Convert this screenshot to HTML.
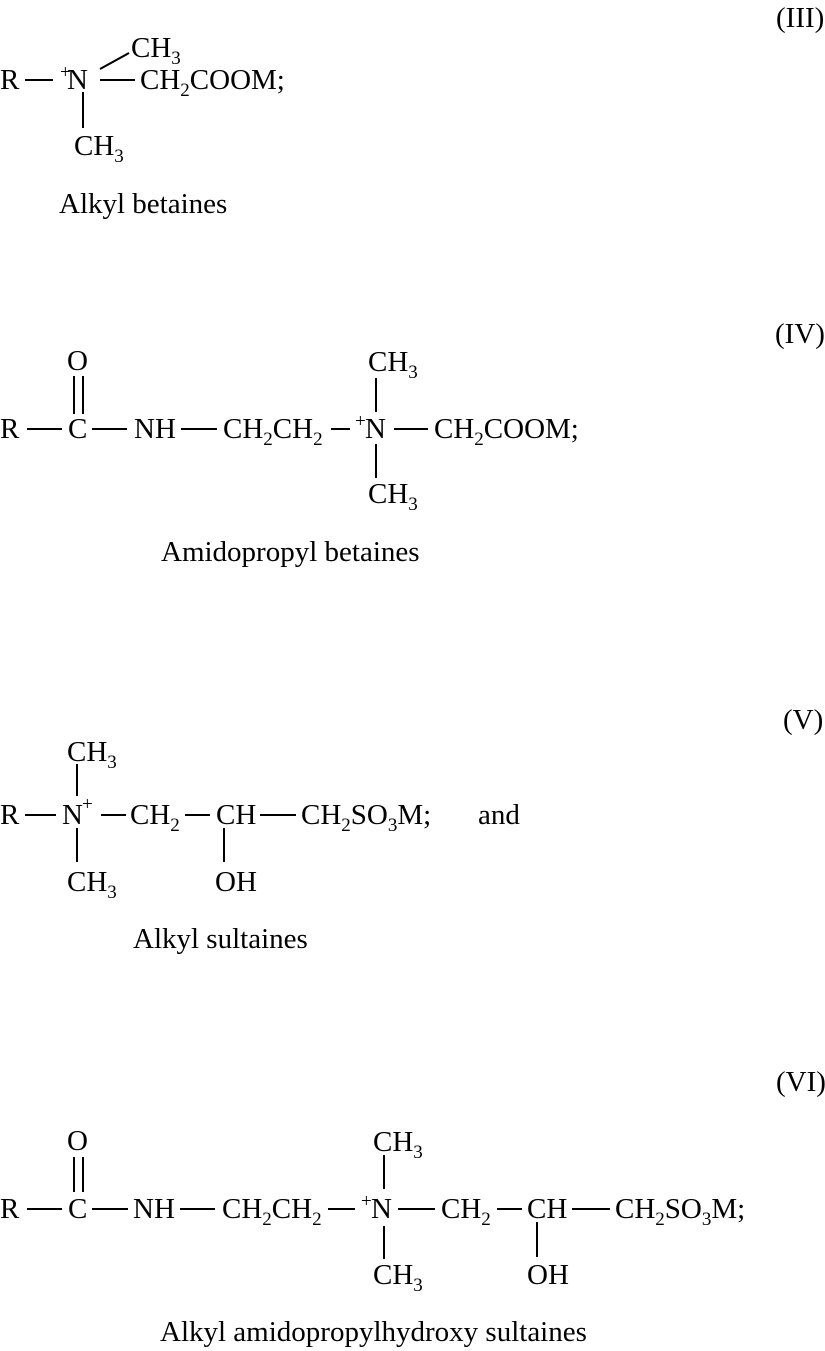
<!DOCTYPE html>
<html><head><meta charset="utf-8"><style>
html,body{margin:0;padding:0;background:#fff;}
svg{display:block;}
text{font-family:"Liberation Serif",serif;font-size:29px;fill:#000;}
.s{font-size:19px;}
line{stroke:#000;stroke-width:2;}
</style></head><body>
<svg width="825" height="1351" viewBox="0 0 825 1351" xmlns="http://www.w3.org/2000/svg">
<!-- III -->
<text x="776" y="27">(III)</text>
<text x="0" y="89">R</text>
<line x1="25" y1="80" x2="53" y2="80"/>
<text x="60" y="78" class="s">+</text>
<text x="67" y="89">N</text>
<line x1="100" y1="69" x2="129" y2="53"/>
<text x="131" y="57">CH<tspan class="s" dy="7">3</tspan></text>
<line x1="100" y1="80" x2="135" y2="80"/>
<text x="140" y="89">CH<tspan class="s" dy="7">2</tspan><tspan dy="-7">COOM;</tspan></text>
<line x1="83" y1="92" x2="83" y2="128"/>
<text x="74" y="155">CH<tspan class="s" dy="7">3</tspan></text>
<text x="59" y="213">Alkyl betaines</text>

<!-- IV -->
<text x="775" y="343">(IV)</text>
<text x="67" y="370">O</text>
<line x1="74" y1="376" x2="74" y2="414"/>
<line x1="83" y1="376" x2="83" y2="414"/>
<text x="0" y="438">R</text>
<line x1="27" y1="429" x2="62" y2="429"/>
<text x="68" y="438">C</text>
<line x1="92" y1="429" x2="127" y2="429"/>
<text x="134" y="438">NH</text>
<line x1="181" y1="429" x2="217" y2="429"/>
<text x="223" y="438">CH<tspan class="s" dy="7">2</tspan><tspan dy="-7">CH</tspan><tspan class="s" dy="7">2</tspan></text>
<line x1="331" y1="429" x2="350" y2="429"/>
<text x="355" y="427" class="s">+</text>
<text x="365" y="438">N</text>
<line x1="376" y1="378" x2="376" y2="412"/>
<line x1="376" y1="444" x2="376" y2="478"/>
<line x1="394" y1="429" x2="428" y2="429"/>
<text x="434" y="438">CH<tspan class="s" dy="7">2</tspan><tspan dy="-7">COOM;</tspan></text>
<text x="368" y="371">CH<tspan class="s" dy="7">3</tspan></text>
<text x="368" y="503">CH<tspan class="s" dy="7">3</tspan></text>
<text x="161" y="561">Amidopropyl betaines</text>

<!-- V -->
<text x="783" y="729">(V)</text>
<text x="67" y="761">CH<tspan class="s" dy="7">3</tspan></text>
<line x1="77" y1="764" x2="77" y2="796"/>
<text x="0" y="824">R</text>
<line x1="25" y1="815" x2="56" y2="815"/>
<text x="62" y="824">N</text>
<text x="82" y="810" class="s">+</text>
<line x1="101" y1="815" x2="126" y2="815"/>
<text x="130" y="824">CH<tspan class="s" dy="7">2</tspan></text>
<line x1="185" y1="815" x2="210" y2="815"/>
<text x="216" y="824">CH</text>
<line x1="260" y1="815" x2="296" y2="815"/>
<text x="301" y="824">CH<tspan class="s" dy="7">2</tspan><tspan dy="-7">SO</tspan><tspan class="s" dy="7">3</tspan><tspan dy="-7">M;</tspan></text>
<text x="478" y="824">and</text>
<line x1="77" y1="828" x2="77" y2="862"/>
<text x="67" y="891">CH<tspan class="s" dy="7">3</tspan></text>
<line x1="224" y1="828" x2="224" y2="862"/>
<text x="215" y="891">OH</text>
<text x="133" y="948">Alkyl sultaines</text>

<!-- VI -->
<text x="776" y="1091">(VI)</text>
<text x="67" y="1150">O</text>
<line x1="74" y1="1157" x2="74" y2="1192"/>
<line x1="83" y1="1157" x2="83" y2="1192"/>
<text x="0" y="1218">R</text>
<line x1="27" y1="1209" x2="62" y2="1209"/>
<text x="68" y="1218">C</text>
<line x1="92" y1="1209" x2="128" y2="1209"/>
<text x="133" y="1218">NH</text>
<line x1="180" y1="1209" x2="215" y2="1209"/>
<text x="222" y="1218">CH<tspan class="s" dy="7">2</tspan><tspan dy="-7">CH</tspan><tspan class="s" dy="7">2</tspan></text>
<line x1="328" y1="1209" x2="355" y2="1209"/>
<text x="361" y="1207" class="s">+</text>
<text x="371" y="1218">N</text>
<line x1="384" y1="1155" x2="384" y2="1189"/>
<line x1="384" y1="1226" x2="384" y2="1259"/>
<text x="373" y="1151">CH<tspan class="s" dy="7">3</tspan></text>
<text x="373" y="1284">CH<tspan class="s" dy="7">3</tspan></text>
<line x1="398" y1="1209" x2="435" y2="1209"/>
<text x="441" y="1218">CH<tspan class="s" dy="7">2</tspan></text>
<line x1="497" y1="1209" x2="522" y2="1209"/>
<text x="527" y="1218">CH</text>
<line x1="572" y1="1209" x2="610" y2="1209"/>
<text x="615" y="1218">CH<tspan class="s" dy="7">2</tspan><tspan dy="-7">SO</tspan><tspan class="s" dy="7">3</tspan><tspan dy="-7">M;</tspan></text>
<line x1="537" y1="1222" x2="537" y2="1257"/>
<text x="527" y="1284">OH</text>
<text x="160" y="1341">Alkyl amidopropylhydroxy sultaines</text>
</svg>
</body></html>
